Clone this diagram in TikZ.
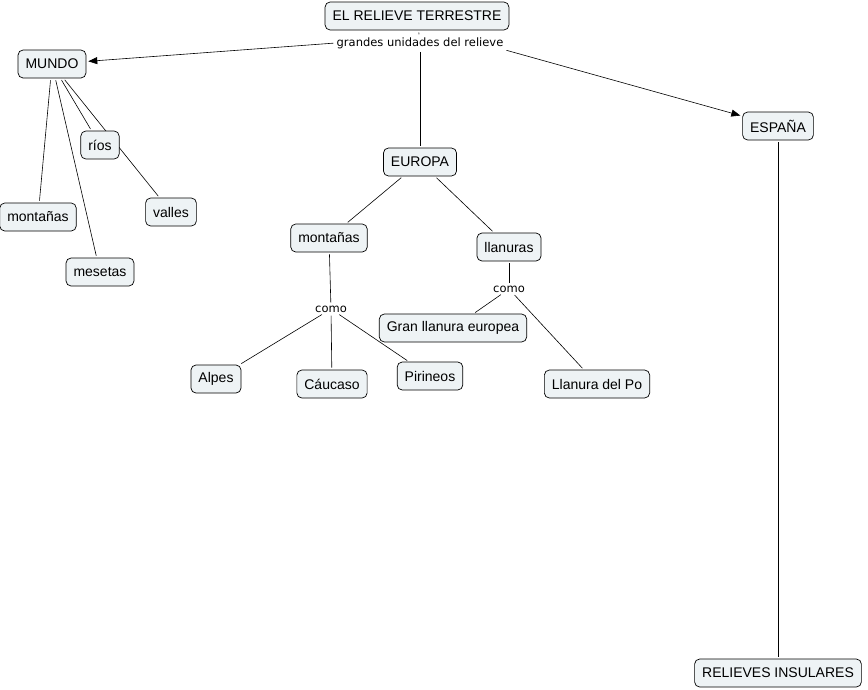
\documentclass[tikz,border=0pt]{standalone}
\usepackage{fontspec}
\setmainfont{Liberation Sans}
\newfontfamily\linkfont{DejaVu Sans}
\usepackage{xcolor}
\usetikzlibrary{arrows.meta,backgrounds}
\definecolor{boxfill}{HTML}{EEF3F5}

\begin{document}
\begin{tikzpicture}[x=1pt,y=-1pt,
  concept/.style={draw,rounded corners=5pt,fill=boxfill,line width=0.7pt,
    minimum height=28pt,inner xsep=7.5pt,font=\fontsize{14}{16}\selectfont},
  linkword/.style={fill=white,inner sep=1pt,font=\linkfont\fontsize{11.5}{13}\selectfont},
  conn/.style={line width=0.6pt,shorten <=2pt,shorten >=2pt},
  arr/.style={conn,-{Triangle[length=9pt,width=7pt]}}]
  \useasboundingbox (0,0) rectangle (868,689);
  % concepts
  \node[concept] (rel) at (417,16) {EL RELIEVE TERRESTRE};
  \node[linkword] (gu) at (420,43) {grandes unidades del relieve};
  \node[concept] (mundo) at (52,64) {MUNDO};
  \node[concept] (esp) at (778,126) {ESPAÑA};
  \node[concept] (eur) at (420,162) {EUROPA};
  \node[concept] (rios) at (100,145) {ríos};
  \node[concept] (valles) at (171,212) {valles};
  \node[concept] (mont1) at (38,217) {montañas};
  \node[concept] (mes) at (100,272) {mesetas};
  \node[concept] (mont2) at (329,238) {montañas};
  \node[concept] (llan) at (509,247) {llanuras};
  \node[linkword] (como1) at (331,309) {como};
  \node[linkword] (como2) at (509,289) {como};
  \node[concept] (gran) at (453,328) {Gran llanura europea};
  \node[concept] (alpes) at (216,379) {Alpes};
  \node[concept] (cauc) at (332,384) {Cáucaso};
  \node[concept] (piri) at (430,376) {Pirineos};
  \node[concept] (po) at (597,384) {Llanura del Po};
  \node[concept] (ins) at (778,673) {RELIEVES INSULARES};
  % links
  \begin{scope}[on background layer]
    \fill[white] (0,0) rectangle (868,689);
    \draw[conn] (rel) -- (gu);
    \draw[conn] (gu) -- (eur);
    \draw[arr] (gu.west) -- (mundo);
    \draw[arr] (gu.south east) -- (esp);
    \draw[conn] (mundo) -- (rios);
    \draw[conn] (mundo) -- (valles);
    \draw[conn] (mundo) -- (mont1);
    \draw[conn] (mundo) -- (mes);
    \draw[conn] (eur) -- (mont2);
    \draw[conn] (eur) -- (llan);
    \draw[conn] (mont2) -- (como1);
    \draw[conn] (como1) -- (alpes);
    \draw[conn] (como1) -- (cauc);
    \draw[conn] (como1) -- (piri);
    \draw[conn] (llan) -- (como2);
    \draw[conn] (como2) -- (gran);
    \draw[conn] (como2) -- (po);
    \draw[conn] (esp) -- (ins);
  \end{scope}
\end{tikzpicture}
\end{document}
